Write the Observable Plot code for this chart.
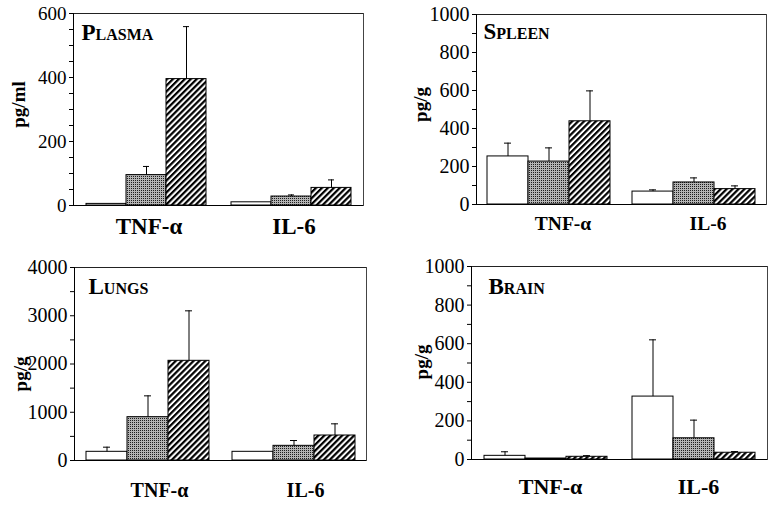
<!DOCTYPE html>
<html><head><meta charset="utf-8">
<script src="https://cdn.jsdelivr.net/npm/d3@7"></script>
<script src="https://cdn.jsdelivr.net/npm/@observablehq/plot@0.6"></script>
<style>
body{margin:0;background:#fff;}
#wrap{position:relative;width:776px;height:507px;overflow:hidden;background:#fff;}
.panel{position:absolute;}
</style></head><body>
<svg width="0" height="0" style="position:absolute">
<defs>
<pattern id="dots" width="2" height="2" patternUnits="userSpaceOnUse">
<rect width="2" height="2" fill="#b4b4b4"/>
<rect width="1" height="1" fill="#1e1e1e"/>
</pattern>
<pattern id="hatch" width="4.2" height="4.2" patternUnits="userSpaceOnUse" patternTransform="rotate(45)">
<rect width="4.2" height="4.2" fill="#fff"/>
<rect width="2.2" height="4.2" fill="#000"/>
</pattern>
</defs></svg>
<div id="wrap"></div>
<script>
// categories
const cytokines = ["TNF-α", "IL-6"];
const groups = ["Group 1", "Group 2", "Group 3"];

// Plasma (pg/ml): TNF-α g1,g2,g3 then IL-6 g1,g2,g3
const plasmaMean = [5, 95, 395, 10, 28, 55];
const plasmaSem  = [0, 27, 164, 0, 5, 25];
const plasmaMajor = [0, 200, 400, 600];
const plasmaMinor = [50, 100, 150, 250, 300, 350, 450, 500, 550];

// Spleen (pg/g)
const spleenMean = [253, 226, 438, 68, 116, 81];
const spleenSem  = [70, 72, 160, 9, 24, 17];
const spleenMajor = [0, 200, 400, 600, 800, 1000];
const spleenMinor = [100, 300, 500, 700, 900];

// Lungs (pg/g)
const lungsMean = [180, 898, 2066, 180, 304, 518];
const lungsSem  = [96, 442, 1036, 0, 110, 242];
const lungsMajor = [0, 1000, 2000, 3000, 4000];
const lungsMinor = [500, 1500, 2500, 3500];

// Brain (pg/g)
const brainMean = [19, 5, 14, 326, 110, 35];
const brainSem  = [21, 0, 6, 294, 94, 6];
const brainMajor = [0, 200, 400, 600, 800, 1000];
const brainMinor = [100, 300, 500, 700, 900];

const fills = ["#ffffff", "url(#dots)", "url(#hatch)"];

function rows(mean, sem) {
  return mean.map((m, i) => ({cytokine: cytokines[Math.floor(i / 3)], group: groups[i % 3], mean: m, sem: sem[i]}));
}

const panels = [
  {name: "Plasma", unit: "pg/ml", mean: plasmaMean, sem: plasmaSem, major: plasmaMajor, minor: plasmaMinor,
   left: 0, top: 0, h: 250, m: [13, 25, 45, 72], pad: 0.27, tickFont: 19, catFont: 23, catPad: 12, catDx: 3,
   titleDx: 8, titleDy: 10.5, unitDx: -54.5, unitDy: -5},
  {name: "Spleen", unit: "pg/g", mean: spleenMean, sem: spleenSem, major: spleenMajor, minor: spleenMinor,
   left: 388, top: 0, h: 250, m: [14, 10, 46, 87], pad: 0.25, tickFont: 20, catFont: 19.5, catPad: 12, catDx: 14,
   titleDx: 7, titleDy: 8, unitDx: -55.5, unitDy: -5},
  {name: "Lungs", unit: "pg/g", mean: lungsMean, sem: lungsSem, major: lungsMajor, minor: lungsMinor,
   left: 0, top: 250, h: 257, m: [17, 22, 47, 74], pad: 0.25, tickFont: 20, catFont: 20, catPad: 22, catDx: 12,
   titleDx: 14, titleDy: 10, unitDx: -54, unitDy: 10},
  {name: "Brain", unit: "pg/g", mean: brainMean, sem: brainSem, major: brainMajor, minor: brainMinor,
   left: 388, top: 250, h: 257, m: [16, 9, 48, 82], pad: 0.29, tickFont: 20, catFont: 22, catPad: 19, catDx: 5,
   titleDx: 17, titleDy: 11, unitDx: -49.5, unitDy: -1}
];

const wrap = document.getElementById("wrap");
for (const p of panels) {
  const data = rows(p.mean, p.sem);
  const errs = data.filter(d => d.sem > 0);
  const max = p.major[p.major.length - 1];
  const allTicks = [...p.major, ...p.minor];
  const svg = Plot.plot({
    width: 388, height: p.h,
    marginTop: p.m[0], marginRight: p.m[1], marginBottom: p.m[2], marginLeft: p.m[3],
    style: {fontFamily: "'Liberation Serif', 'Times New Roman', serif", color: "#000", background: "none"},
    fx: {domain: cytokines, padding: 0, label: null},
    x: {domain: groups, paddingInner: 0, paddingOuter: p.pad, axis: null},
    y: {domain: [0, max]},
    color: {domain: groups, range: fills},
    marks: [
      Plot.barY(data, {fx: "cytokine", x: "group", y: "mean", fill: "group", stroke: "#000", strokeWidth: 1}),
      Plot.ruleX(errs, {fx: "cytokine", x: "group", y1: "mean", y2: d => d.mean + d.sem, stroke: "#000", strokeWidth: 1}),
      Plot.tickY(errs, {fx: "cytokine", x: "group", y: d => d.mean + d.sem, stroke: "#000", strokeWidth: 1, insetLeft: 17, insetRight: 17}),
      Plot.frame({anchor: "top", stroke: "#222"}),
      Plot.frame({anchor: "bottom", stroke: "#000"}),
      Plot.frame({anchor: "left", facetAnchor: "left", stroke: "#000"}),
      Plot.frame({anchor: "right", facetAnchor: "right", stroke: "#444"}),
      Plot.axisY({ticks: allTicks, tickSize: 4, tickPadding: 3, fontSize: p.tickFont, label: null,
        tickFormat: d => p.major.includes(d) ? String(d) : ""}),
      Plot.axisFx({anchor: "bottom", tickSize: 0, tickPadding: p.catPad, fontSize: p.catFont, fontWeight: "bold",
        label: null, dx: p.catDx}),
      Plot.text([p.unit], {frameAnchor: "left", rotate: -90, dx: p.unitDx, dy: p.unitDy, fontSize: 19,
        fontWeight: "bold", textAnchor: "middle", facetAnchor: "left"}),
      Plot.text([p.name], {frameAnchor: "top-left", textAnchor: "start", lineAnchor: "top", dx: p.titleDx, dy: p.titleDy,
        fontSize: 23, fontWeight: "bold", fontVariant: "small-caps", facetAnchor: "left"})
    ]
  });
  const div = document.createElement("div");
  div.className = "panel";
  div.style.left = p.left + "px";
  div.style.top = p.top + "px";
  div.appendChild(svg);
  wrap.appendChild(div);
}
</script>
</body></html>
